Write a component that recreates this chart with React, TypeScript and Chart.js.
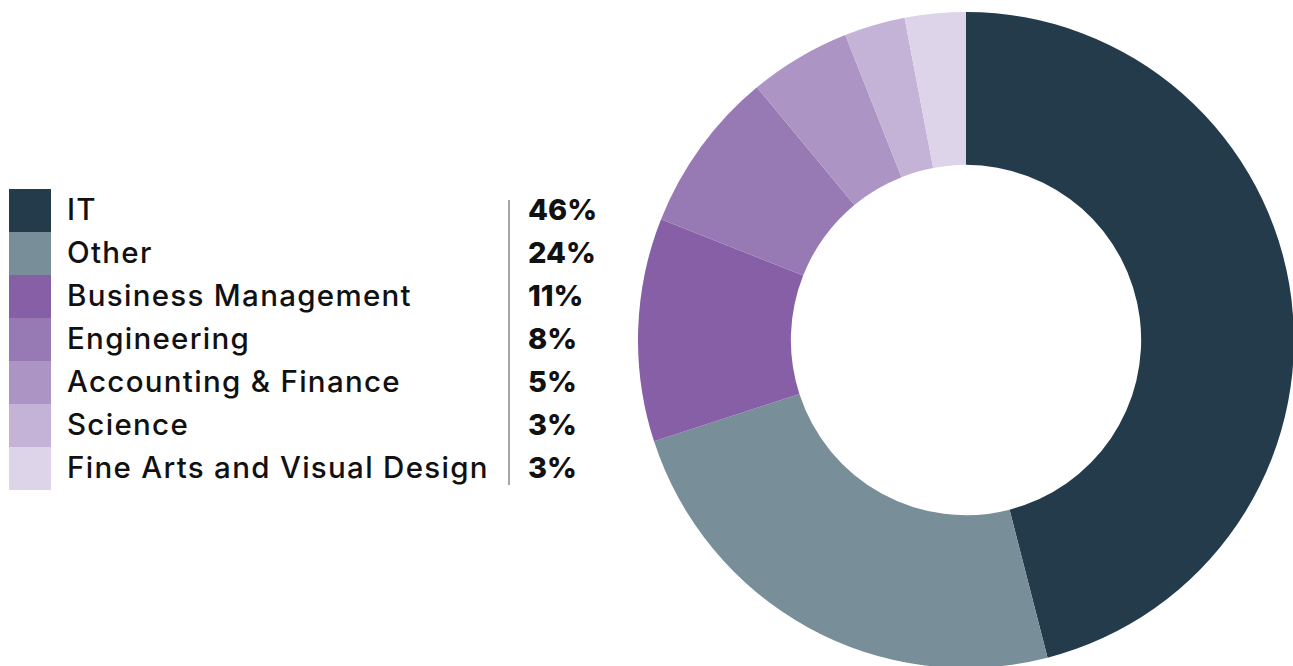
import React, { useEffect, useRef } from "react";
import { Chart, registerables } from "chart.js";

Chart.register(...registerables);

const categories = [
  "IT",
  "Other",
  "Business Management",
  "Engineering",
  "Accounting & Finance",
  "Science",
  "Fine Arts and Visual Design",
];
const values = [46, 24, 11, 8, 5, 3, 3];
const valueLabels = ["46%", "24%", "11%", "8%", "5%", "3%", "3%"];
const colors = ["#233b4a", "#788e99", "#865fa6", "#9779b3", "#ac94c5", "#c4b2d7", "#ddd4ea"];

const FONT = "Inter, 'Open Sans', sans-serif";

export default function App() {
  const canvasRef = useRef<HTMLCanvasElement | null>(null);

  useEffect(() => {
    if (!canvasRef.current) return;
    const chart = new Chart(canvasRef.current, {
      type: "doughnut",
      data: {
        labels: categories,
        datasets: [
          {
            data: values,
            backgroundColor: colors,
            borderWidth: 0,
            hoverOffset: 0,
          },
        ],
      },
      options: {
        responsive: false,
        maintainAspectRatio: false,
        animation: false,
        cutout: "53.4%",
        layout: { padding: 0 },
        plugins: {
          legend: { display: false },
          tooltip: { enabled: false },
        },
      },
    });
    return () => chart.destroy();
  }, []);

  const rowH = 43;
  return (
    <div
      style={{
        position: "fixed",
        left: 0,
        top: 0,
        width: 1293,
        height: 666,
        overflow: "hidden",
        background: "#ffffff",
      }}
    >
      <canvas
        ref={canvasRef}
        width={656}
        height={656}
        style={{ position: "absolute", left: 638, top: 12, width: 656, height: 656 }}
      />
      <div style={{ position: "absolute", left: 9, top: 189 }}>
        {categories.map((c, i) => (
          <div key={c} style={{ position: "relative", height: rowH }}>
            <div
              style={{
                position: "absolute",
                left: 0,
                top: 0,
                width: 42,
                height: rowH,
                background: colors[i],
              }}
            />
            <div
              style={{
                position: "absolute",
                left: 58,
                top: -1,
                height: rowH,
                lineHeight: rowH + "px",
                fontFamily: FONT,
                fontWeight: 550,
                fontSize: 29.5,
                letterSpacing: 1.3,
                color: "#111111",
                whiteSpace: "nowrap",
              }}
            >
              {c}
            </div>
            <div
              style={{
                position: "absolute",
                left: 519,
                top: -1,
                height: rowH,
                lineHeight: rowH + "px",
                fontFamily: FONT,
                fontWeight: 800,
                fontSize: 29,
                letterSpacing: 0,
                color: "#111111",
                whiteSpace: "nowrap",
              }}
            >
              {valueLabels[i]}
            </div>
          </div>
        ))}
        <div
          style={{
            position: "absolute",
            left: 499,
            top: 11,
            width: 2,
            height: 285,
            background: "#a6a6a6",
          }}
        />
      </div>
    </div>
  );
}
